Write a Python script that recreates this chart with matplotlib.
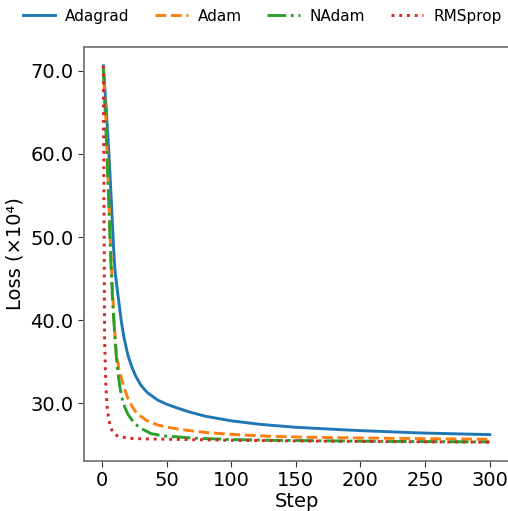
import matplotlib
matplotlib.use("Agg")
import matplotlib.pyplot as plt

# Data (loss in units of 1e4)
adagrad_steps = [1, 3, 5, 7, 9, 10, 12, 13, 15, 17, 20, 23, 26, 30, 35, 43, 50, 59, 68,
                 80, 100, 122, 150, 184, 200, 246, 275, 300]
adagrad_loss = [70.6, 66.0, 61.0, 55.0, 48.5, 46.0, 43.4, 42.2, 39.8, 37.9, 35.8, 34.4,
                33.3, 32.2, 31.3, 30.4, 29.9, 29.4, 28.95, 28.45, 27.9, 27.48, 27.12,
                26.84, 26.72, 26.44, 26.33, 26.24]

adam_steps = [1, 3, 5, 6, 7, 8, 9, 10, 11, 13, 15, 17, 20, 23, 26, 30, 35, 43, 50, 59,
              68, 80, 99, 130, 160, 200, 250, 300]
adam_loss = [70.6, 64.0, 56.0, 51.5, 47.5, 44.0, 40.8, 38.2, 36.0, 34.2, 33.0, 31.9,
             30.6, 29.7, 29.0, 28.45, 27.9, 27.4, 27.15, 26.9, 26.72, 26.5, 26.28,
             26.04, 25.92, 25.84, 25.75, 25.68]

nadam_steps = [1, 3, 5, 6, 7, 8, 9, 10, 11, 12, 14, 16, 18, 20, 25, 30, 38, 45, 50, 59,
               70, 100, 130, 200, 250, 300]
nadam_loss = [70.6, 63.0, 55.0, 50.5, 46.5, 43.0, 40.2, 38.0, 35.8, 34.0, 31.8, 30.3,
              29.4, 28.7, 27.6, 27.0, 26.36, 26.15, 26.05, 25.96, 25.82, 25.65, 25.56,
              25.45, 25.4, 25.36]

rmsprop_steps = [1, 2, 3, 4, 5, 6, 8, 11, 15, 23, 35, 59, 100, 150, 200, 250, 300]
rmsprop_loss = [70.6, 37.5, 32.0, 29.6, 28.3, 27.5, 26.6, 26.16, 25.95, 25.78, 25.72,
                25.66, 25.56, 25.48, 25.42, 25.37, 25.33]

series = [
    ("Adagrad", adagrad_steps, adagrad_loss, "#1f77b4", "-"),
    ("Adam", adam_steps, adam_loss, "#ff7f0e", "--"),
    ("NAdam", nadam_steps, nadam_loss, "#2ca02c", "-."),
    ("RMSprop", rmsprop_steps, rmsprop_loss, "#d62728", ":"),
]

fig = plt.figure(figsize=(5.08, 5.11), dpi=100)
ax = fig.add_axes([84 / 508, 1 - 461 / 511, (509 - 84) / 508, (461 - 47) / 511])

for name, xs, ys, color, ls in series:
    ax.plot(xs, ys, color=color, linestyle=ls, linewidth=2.1, label=name)

ax.set_xticks([0, 50, 100, 150, 200, 250, 300])
ax.set_yticks([30, 40, 50, 60, 70])
ax.yaxis.set_major_formatter(matplotlib.ticker.FormatStrFormatter("%.1f"))
ax.tick_params(labelsize=14, color="#333333", length=4)
ax.set_xlabel("Step", fontsize=14, labelpad=1)
ax.set_ylabel("Loss (×10⁴)", fontsize=14, labelpad=4)
for sp in ax.spines.values():
    sp.set_color("#777777")
    sp.set_linewidth(1.3)

fig.legend(loc="upper center", bbox_to_anchor=(0.516, 1.01), ncol=4, frameon=False,
           fontsize=11, handlelength=2.15, columnspacing=1.65, handletextpad=0.65)

fig.savefig("out.png", dpi=100)
